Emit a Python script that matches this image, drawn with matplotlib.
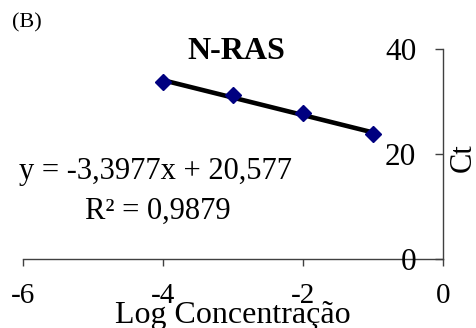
import numpy as np
import matplotlib
matplotlib.use("Agg")
import matplotlib.pyplot as plt

plt.rcParams['font.family'] = ['Liberation Serif', 'DejaVu Serif']

log_conc = [-4, -3, -2, -1]
ct_values = [33.7, 31.3, 27.8, 23.8]
x_ticks = [-6, -4, -2, 0]
y_ticks = [0, 20, 40]
eq_text = "y = -3,3977x + 20,577"
r2_text = "R² = 0,9879"

fig = plt.figure(figsize=(4.76, 3.28), dpi=100)
ax = fig.add_axes([0.0477, 0.2094, 0.8824, 0.6403])

axis_color = '#404040'

# trend line from fit
coef = np.polyfit(log_conc, ct_values, 1)
xl = np.array([min(log_conc), max(log_conc)])
ax.plot(xl, np.polyval(coef, xl), color='black', lw=3.3, zorder=2, solid_capstyle='butt')
ax.plot(log_conc, ct_values, linestyle='none', marker='D', markersize=8.5,
        color='#000080', markeredgecolor='#000080', zorder=3)

ax.set_xlim(-6, 0)
ax.set_ylim(0, 40)
ax.set_xticks(x_ticks)
ax.set_yticks(y_ticks)
ax.set_xticklabels([str(v) for v in x_ticks])
ax.set_yticklabels([str(v) for v in y_ticks])

ax.spines['left'].set_position(('data', 0))
ax.spines['right'].set_visible(False)
ax.spines['top'].set_visible(False)
for s in ('left', 'bottom'):
    ax.spines[s].set_color(axis_color)
    ax.spines[s].set_linewidth(1)
    ax.spines[s].set_zorder(1)

ax.tick_params(axis='y', direction='out', length=6, width=1, color=axis_color,
               pad=13, labelsize=22.5)
ax.tick_params(axis='x', direction='out', length=5, width=1, color=axis_color,
               pad=12, labelsize=21)
for lbl in ax.get_yticklabels():
    lbl.set_zorder(5)

ax.set_xlabel("Log Concentração", fontsize=23)
ax.xaxis.set_label_coords(0.5, -0.266)
ax.xaxis.label.set_va('center')

ax.set_ylabel("Ct", fontsize=22)
ax.yaxis.set_label_coords(1.048, 0.485)
ax.yaxis.label.set_va('center')
ax.yaxis.label.set_ha('center')

ax.text(0.508, 0.99, "N-RAS", transform=ax.transAxes, ha='center', va='center',
        fontsize=23, fontweight='bold')

ax.text(0.315, 0.417, eq_text, transform=ax.transAxes, ha='center', va='center',
        fontsize=22)
ax.text(0.321, 0.23, r2_text, transform=ax.transAxes, ha='center', va='center',
        fontsize=22)

fig.text(12 / 476, 1 - 23 / 328, "(B)", ha='left', va='center', fontsize=16)

fig.savefig("out.png", dpi=100)
